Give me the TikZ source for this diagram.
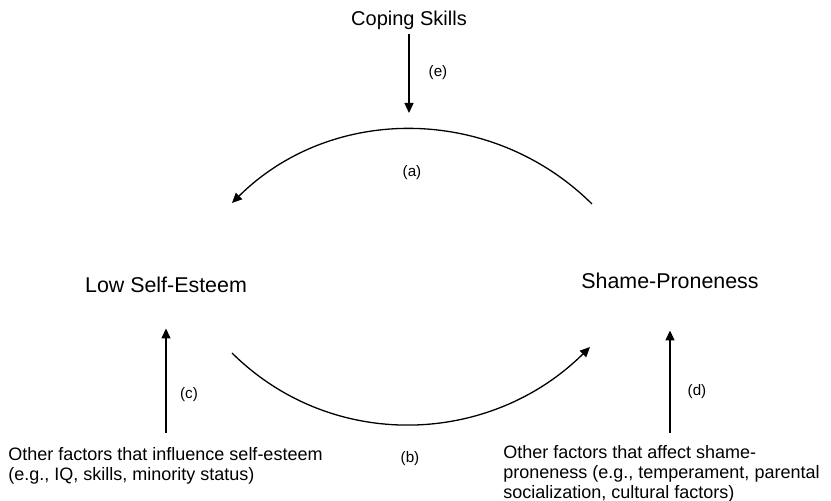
\documentclass[tikz,border=0pt]{standalone}
\usepackage{fontspec}
\setmainfont{Liberation Sans}
\usetikzlibrary{arrows.meta}

\begin{document}
\begin{tikzpicture}[
  x=0.5pt, y=-0.5pt,
  box/.style={inner sep=0pt},
  main/.style={box, font=\fontsize{10.7}{12}\selectfont},
  note/.style={box, align=left, anchor=north west, font=\fontsize{9}{10}\selectfont},
  tag/.style={box, font=\fontsize{7.6}{8}\selectfont},
  arr/.style={-{Triangle[length=5pt, width=4.5pt]}, line width=0.65pt}
]
\useasboundingbox (0,0) rectangle (831,501);
\node[main, font=\fontsize{10}{12}\selectfont] (cope) at (409,20) {Coping Skills};
\node[main] (lse) at (166,285) {Low Self-Esteem};
\node[main] (sp) at (670,281) {Shame-Proneness};
\node[note] (olse) at (8,447)
  {Other factors that influence self-esteem\\
   (e.g., IQ, skills, minority status)};
\node[note] (osp) at (503,445)
  {Other factors that affect shame-\\
   proneness (e.g., temperament, parental\\
   socialization, cultural factors)};
% labels of the paths
\node[tag] (te) at (438,73) {(e)};
\node[tag] (ta) at (412,173) {(a)};
\node[tag] (tb) at (410,459) {(b)};
\node[tag] (tc) at (189,395) {(c)};
\node[tag] (td) at (697,392) {(d)};
% ends of the curved paths
\coordinate (etip) at (409,113);
\coordinate (a-from) at (592,204);
\coordinate (a-to) at (232,203);
\coordinate (b-from) at (232,353);
\coordinate (b-to) at (590,347);
\draw[arr, shorten <=2pt] (cope.south) -- (etip);
\draw[arr] (a-from) .. controls +(-100,-99) and +(100,-99) .. (a-to);
\draw[arr] (b-from) .. controls +(100,99) and +(-100,99) .. (b-to);
\draw[arr, shorten <=7pt, shorten >=17.6pt] (lse.south |- olse.north) -- (lse.south);
\draw[arr, shorten <=6pt, shorten >=20.6pt] (sp.south |- osp.north) -- (sp.south);
\end{tikzpicture}
\end{document}
